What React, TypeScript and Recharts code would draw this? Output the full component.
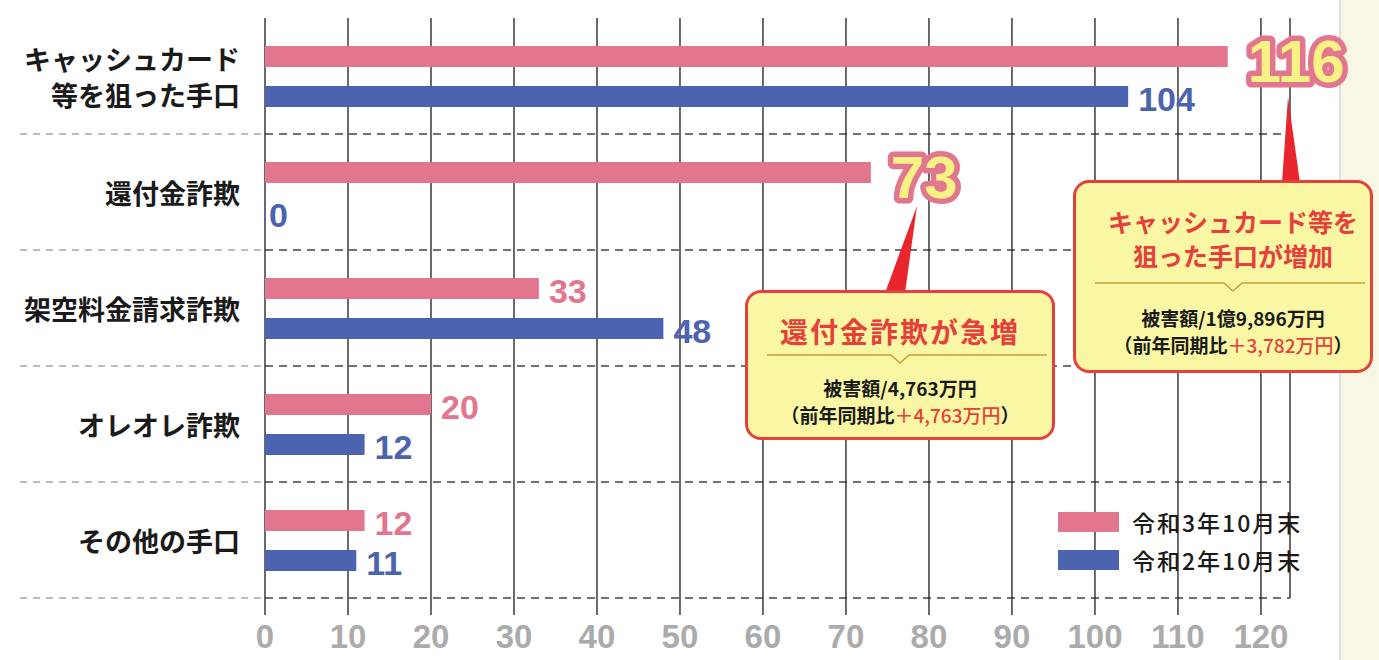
import { Bar, BarChart, CartesianGrid, LabelList, Legend, XAxis, YAxis } from 'recharts'

const CATEGORIES = [
  'キャッシュカード\n等を狙った手口',
  '還付金詐欺',
  '架空料金請求詐欺',
  'オレオレ詐欺',
  'その他の手口',
]
const REIWA3 = [116, 73, 33, 20, 12]
const REIWA2 = [104, 0, 48, 12, 11]
const X_TICKS = [0, 10, 20, 30, 40, 50, 60, 70, 80, 90, 100, 110, 120]
// indices of the 令和3年 bars that get the big outlined number
const HIGHLIGHT = [0, 1]

const SERIES = [
  { key: 'r3', label: '令和3年10月末', color: '#e3768f' },
  { key: 'r2', label: '令和2年10月末', color: '#4c63b0' },
] as const

const data = CATEGORIES.map((name, i) => ({ name, r3: REIWA3[i], r2: REIWA2[i] }))

const W = 1379
const H = 660
const PLOT_LEFT = 265
const BAND = 116
const CJK = '"Noto Sans CJK JP", "Noto Sans", sans-serif'
const NUM = '"Liberation Sans", Arial, sans-serif'

function CategoryTick(props: any) {
  const { y, payload } = props
  const lines = String(payload.value).split('\n')
  const x = PLOT_LEFT - 25
  return (
    <g>
      <line
        x1={20}
        x2={PLOT_LEFT}
        y1={y + BAND / 2}
        y2={y + BAND / 2}
        stroke="#a8a8a8"
        strokeWidth={1.3}
        strokeDasharray="7 6"
      />
      {lines.map((l, i) => (
        <text
          key={i}
          x={x}
          y={y + (i - (lines.length - 1) / 2) * 36}
          textAnchor="end"
          dominantBaseline="central"
          fontFamily={CJK}
          fontWeight={700}
          fontSize={27}
          fill="#1a1a1a"
        >
          {l}
        </text>
      ))}
    </g>
  )
}

function valueLabel(color: string, highlight: number[]) {
  return (props: any) => {
    const { x, y, width, height, value, index } = props
    const cy = Number(y) + Number(height) / 2
    const end = Number(x) + Number(width)
    if (highlight.includes(index)) {
      return (
        <text
          x={end + 20}
          y={cy + 5}
          dominantBaseline="central"
          fontFamily={NUM}
          fontWeight={700}
          fontSize={60}
          fill="#f7f283"
          stroke={color}
          strokeWidth={11}
          strokeLinejoin="round"
          paintOrder="stroke"
        >
          {value}
        </text>
      )
    }
    return (
      <text
        x={end + (Number(value) === 0 ? 3 : 10)}
        y={cy + 2}
        dominantBaseline="central"
        fontFamily={NUM}
        fontWeight={700}
        fontSize={34}
        fill={color}
      >
        {value}
      </text>
    )
  }
}

function LegendBox() {
  return (
    <div style={{ fontFamily: CJK }}>
      {SERIES.map((s) => (
        <div key={s.key} style={{ display: 'flex', alignItems: 'center', height: 38 }}>
          <span style={{ width: 61, height: 20, background: s.color, display: 'inline-block' }} />
          <span style={{ marginLeft: 13, fontSize: 23, fontWeight: 500, color: '#1a1a1a', letterSpacing: 2 }}>
            {s.label}
          </span>
        </div>
      ))}
    </div>
  )
}

function Callout({
  left,
  top,
  width,
  height,
  title,
  titleSize,
  titleSpacing,
  titleTop,
  ruleY,
  amount,
  diff,
  textTop,
  shift = 0,
}: {
  left: number
  top: number
  width: number
  height: number
  title: string[]
  titleSize: number
  titleSpacing: number
  titleTop: number
  ruleY: number
  amount: string
  diff: string
  textTop: number
  shift?: number
}) {
  const cx = width / 2 + shift
  return (
    <div
      style={{
        position: 'absolute',
        left,
        top,
        width,
        height,
        boxSizing: 'border-box',
        border: '3px solid #e5403b',
        borderRadius: 16,
        background: '#f9f6a4',
        fontFamily: CJK,
      }}
    >
      <svg width={width} height={height} style={{ position: 'absolute', left: -3, top: -3 }}>
        <polyline
          points={`22,${ruleY} ${cx - 9},${ruleY} ${cx},${ruleY + 8} ${cx + 9},${ruleY} ${width - 8},${ruleY}`}
          fill="none"
          stroke="#c9a03c"
          strokeWidth={1.6}
        />
      </svg>
      {title.map((t, i) => (
        <div
          key={i}
          style={{
            position: 'absolute',
            left: shift * 2,
            right: 0,
            top: titleTop + i * 34 - 20,
            height: 40,
            lineHeight: '40px',
            textAlign: 'center',
            whiteSpace: 'nowrap',
            color: '#e5403b',
            fontSize: titleSize,
            fontWeight: 700,
            letterSpacing: titleSpacing,
          }}
        >
          {t}
        </div>
      ))}
      <div
        style={{
          position: 'absolute',
          left: shift * 2,
          right: 0,
          top: textTop - 14,
          textAlign: 'center',
          whiteSpace: 'nowrap',
          fontSize: 19,
          fontWeight: 700,
          lineHeight: '27px',
          color: '#1a1a1a',
        }}
      >
        <div>被害額/{amount}</div>
        <div>
          （前年同期比<span style={{ color: '#e5403b', fontWeight: 500 }}>＋{diff}</span>）
        </div>
      </div>
    </div>
  )
}

export default function App() {
  return (
    <div style={{ position: 'absolute', left: 0, top: 0, width: W, height: H, background: '#fff', overflow: 'hidden' }}>
      <div
        style={{
          position: 'absolute',
          left: 1339,
          top: 0,
          width: W - 1339,
          height: H,
          background: '#f8f7e5',
          borderLeft: '2px solid #dedede',
        }}
      />
      <BarChart
        width={W}
        height={H}
        data={data}
        layout="vertical"
        margin={{ top: 18, right: 89, bottom: 0, left: 0 }}
        barSize={21}
        barGap={19}
        style={{ position: 'absolute', left: 0, top: 0 }}
      >
        <CartesianGrid
          vertical={false}
          stroke="#444"
          strokeWidth={1.3}
          strokeDasharray="8 6"
          horizontalCoordinatesGenerator={({ offset }: any) =>
            [1, 2, 3, 4, 5].map((i) => offset.top + (i * offset.height) / 5)
          }
        />
        <CartesianGrid horizontal={false} stroke="#2b2b2b" strokeWidth={1.4} />
        <XAxis
          type="number"
          domain={[0, 123.5]}
          ticks={X_TICKS}
          interval={0}
          height={62}
          axisLine={false}
          tickLine={{ stroke: '#2b2b2b', strokeWidth: 1.4 }}
          tickSize={17}
          tickMargin={10}
          tick={{ fontSize: 33, fontWeight: 700, fill: '#ababab', fontFamily: NUM }}
        />
        <YAxis
          type="category"
          dataKey="name"
          width={PLOT_LEFT}
          axisLine={false}
          tickLine={false}
          tick={<CategoryTick />}
          interval={0}
        />
        <Legend
          layout="vertical"
          align="center"
          verticalAlign="middle"
          content={<LegendBox />}
          wrapperStyle={{ position: 'absolute', left: 1058, top: 503, width: 280, height: 80 }}
        />
        <Bar dataKey="r3" name={SERIES[0].label} fill={SERIES[0].color} isAnimationActive={false}>
          <LabelList dataKey="r3" content={valueLabel(SERIES[0].color, HIGHLIGHT)} />
        </Bar>
        <Bar
          dataKey="r2"
          name={SERIES[1].label}
          fill={SERIES[1].color}
          minPointSize={1}
          isAnimationActive={false}
        >
          <LabelList dataKey="r2" content={valueLabel(SERIES[1].color, [])} />
        </Bar>
      </BarChart>
      <svg width={W} height={H} style={{ position: 'absolute', left: 0, top: 0, pointerEvents: 'none' }}>
        <polygon points="917,206 885,293 905,293" fill="#e8262c" />
        <polygon points="1288,97 1282,183 1300,183" fill="#e8262c" />
      </svg>
      <Callout
        left={745}
        top={290}
        width={310}
        height={150}
        title={['還付金詐欺が急増']}
        titleSize={28}
        titleSpacing={2}
        titleTop={38}
        ruleY={65}
        amount="4,763万円"
        diff="4,763万円"
        textTop={95}
      />
      <Callout
        left={1073}
        top={180}
        width={300}
        height={193}
        title={['キャッシュカード等を', '狙った手口が増加']}
        titleSize={25}
        titleSpacing={0}
        titleTop={38}
        ruleY={103}
        amount="1億9,896万円"
        diff="3,782万円"
        textTop={135}
        shift={10}
      />
    </div>
  )
}
